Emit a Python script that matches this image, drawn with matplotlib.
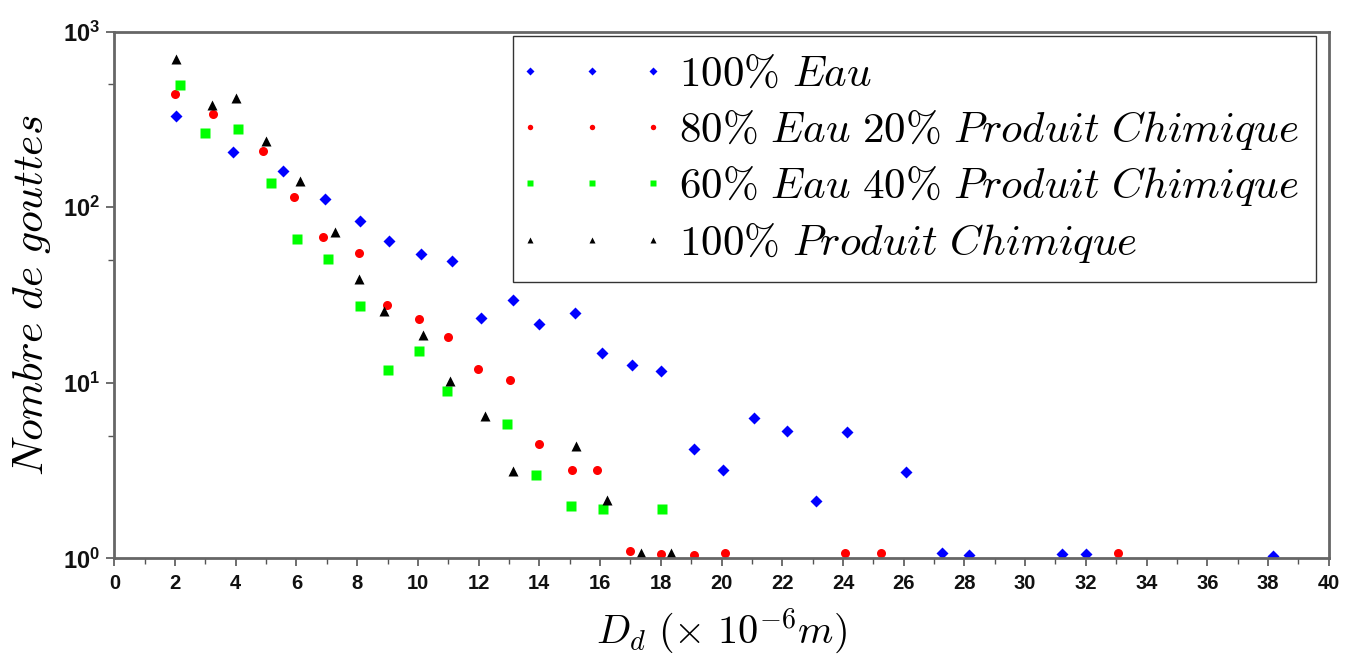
import matplotlib
matplotlib.use("Agg")
import matplotlib.pyplot as plt
from matplotlib.ticker import FixedLocator, NullFormatter
from matplotlib.lines import Line2D
from matplotlib.legend_handler import HandlerLine2D

plt.rcParams['mathtext.fontset'] = 'cm'
plt.rcParams['mathtext.rm'] = 'Liberation Sans:bold'
plt.rcParams['mathtext.it'] = 'Liberation Sans:bold'
plt.rcParams['mathtext.bf'] = 'Liberation Sans:bold'

# ---- data ----
eau_x = [2.04, 3.92, 5.55, 6.94, 8.10, 9.06, 10.10, 11.11, 12.08, 13.12, 14.0, 15.17,
         16.05, 17.05, 18.02, 19.10, 20.06, 21.07, 22.15, 23.11, 24.12, 26.08, 27.25,
         28.14, 31.2, 32.02, 38.16]
eau_y = [332, 205, 160, 111, 83.4, 64.2, 54.1, 49.6, 23.5, 29.7, 21.6, 25.1,
         14.7, 12.7, 11.7, 4.22, 3.18, 6.31, 5.32, 2.13, 5.25, 3.12, 1.08,
         1.04, 1.06, 1.06, 1.03]

e80_x = [2.0, 3.26, 4.91, 5.93, 6.88, 8.05, 8.97, 10.03, 10.98, 11.98, 13.04, 14.0,
         15.08, 15.91, 16.98, 18.02, 19.1, 20.1, 24.08, 25.25, 33.07]
e80_y = [443, 338, 208, 114, 67.3, 55.1, 27.7, 23.1, 18.3, 12.0, 10.4, 4.46,
         3.18, 3.18, 1.10, 1.06, 1.04, 1.08, 1.08, 1.08, 1.08]

e60_x = [2.16, 3.0, 4.08, 5.17, 6.02, 7.05, 8.09, 9.02, 10.04, 10.95, 12.94, 13.9,
         15.04, 16.09, 18.05]
e60_y = [496, 263, 277, 138, 66.3, 50.5, 27.3, 11.8, 15.2, 8.95, 5.79, 2.98,
         1.99, 1.92, 1.90]

chim_x = [2.04, 3.21, 4.0, 5.01, 6.13, 7.27, 8.05, 8.88, 10.18, 11.06, 12.22, 13.12,
          15.21, 16.22, 17.34, 18.33]
chim_y = [697, 383, 417, 239, 141, 72.5, 39.0, 25.7, 18.8, 10.3, 6.47, 3.16,
          4.34, 2.15, 1.07, 1.07]

labels = [r'$100\%\ Eau$',
          r'$80\%\ Eau\ 20\%\ Produit\ Chimique$',
          r'$60\%\ Eau\ 40\%\ Produit\ Chimique$',
          r'$100\%\ Produit\ Chimique$']

x_ticks = list(range(0, 41, 2))
y_ticks = [1, 10, 100, 1000]
y_ticklabels = [r'$\mathrm{10^{0}}$', r'$\mathrm{10^{1}}$', r'$\mathrm{10^{2}}$', r'$\mathrm{10^{3}}$']

# ---- figure ----
fig = plt.figure(figsize=(13.45, 6.57), dpi=100)
ax = fig.add_axes([0.085, 0.150, 0.9029, 0.802])

ax.plot(eau_x, eau_y, linestyle='none', marker='D', ms=6.2, color='#0000ff', mec='none', label=labels[0])
ax.plot(e80_x, e80_y, linestyle='none', marker='o', ms=6.5, color='#ff0000', mec='none', label=labels[1])
ax.plot(e60_x, e60_y, linestyle='none', marker='s', ms=6.5, color='#00ff00', mec='none', label=labels[2])
ax.plot(chim_x, chim_y, linestyle='none', marker='^', ms=6.5, color='#000000', mec='none', label=labels[3])

ax.set_yscale('log')
ax.set_xlim(0, 40)
ax.set_ylim(1, 1000)

ax.set_xticks(x_ticks)
ax.set_xticks(range(1, 40, 2), minor=True)
ax.xaxis.set_tick_params(which='major', length=6, width=1.2, color='#555555', direction='out', pad=5)
ax.xaxis.set_tick_params(which='minor', length=4, width=1.0, color='#555555', direction='out')

ax.yaxis.set_major_locator(FixedLocator(y_ticks))
ax.yaxis.set_minor_locator(FixedLocator([5, 50, 500]))
ax.yaxis.set_minor_formatter(NullFormatter())
ax.set_yticklabels(y_ticklabels)
ax.yaxis.set_tick_params(which='major', length=6, width=1.2, color='#555555', direction='out', pad=4)
ax.yaxis.set_tick_params(which='minor', length=4, width=1.0, color='#555555', direction='out')

for lab in ax.get_xticklabels():
    lab.set_fontfamily('Liberation Sans')
    lab.set_fontsize(14.5)
    lab.set_fontweight('bold')
    lab.set_color('#111111')
for lab in ax.get_yticklabels():
    lab.set_math_fontfamily('custom')
    lab.set_fontsize(17)
    lab.set_color('#111111')

for side in ['left', 'bottom', 'top', 'right']:
    ax.spines[side].set_color('#666666')
    ax.spines[side].set_linewidth(2.0)

ax.set_xlabel(r'$D_d\ (\times\ 10^{-6}m)$', fontsize=29, labelpad=10)
ax.set_ylabel(r'$Nombre\ de\ gouttes$', fontsize=31.5)
ax.yaxis.set_label_coords(-0.0505, 0.5)

leg = ax.legend(loc='upper right', bbox_to_anchor=(0.9895, 0.9915), borderaxespad=0,
                numpoints=3, markerscale=0.6, fontsize=31, frameon=True, fancybox=False,
                handlelength=2.85, handletextpad=0.6, labelspacing=0.29, borderpad=0.4,
                handler_map={Line2D: HandlerLine2D(marker_pad=0)})
leg.get_frame().set_edgecolor('#000000')
leg.get_frame().set_linewidth(1.0)

fig.savefig('out.png', dpi=100)
